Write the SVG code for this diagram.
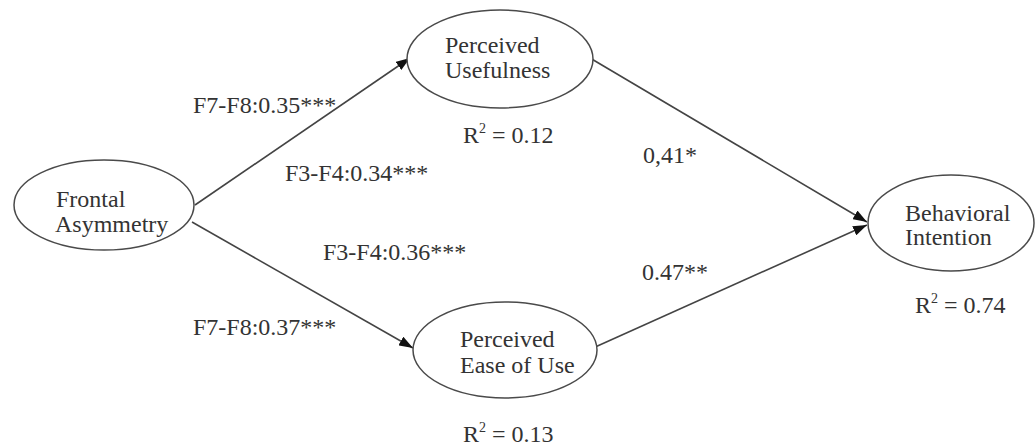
<svg xmlns="http://www.w3.org/2000/svg" width="1036" height="445" viewBox="0 0 1036 445">
<defs>
<style>
.node ellipse{fill:#ffffff;stroke:#4a4a4a;stroke-width:1.5}
text{font-family:"Liberation Serif","Times New Roman",serif;font-size:24px;fill:#333}
.edge{stroke:#444;stroke-width:1.6;fill:none;marker-end:url(#arr)}
</style>
<marker id="arr" viewBox="0 0 14 10" refX="14" refY="5" markerWidth="14" markerHeight="10" markerUnits="userSpaceOnUse" orient="auto">
<path d="M0,0 L14,5 L0,10 Z" fill="#111"/>
</marker>
</defs>
<rect width="1036" height="445" fill="#ffffff"/>
<g id="connectors">
<line class="edge" x1="195" y1="205" x2="410" y2="58"/>
<line class="edge" x1="192" y1="222" x2="413" y2="348"/>
<line class="edge" x1="590" y1="58" x2="867" y2="222"/>
<line class="edge" x1="593" y1="348" x2="867" y2="225"/>
</g>
<g id="frontal" class="node">
<ellipse cx="104" cy="205" rx="90" ry="45"/>
<text x="56" y="207">Frontal</text>
<text x="55" y="232">Asymmetry</text>
</g>
<g id="pu" class="node">
<ellipse cx="500" cy="59" rx="93" ry="49"/>
<text x="445" y="53">Perceived</text>
<text x="445" y="78">Usefulness</text>
</g>
<g id="peu" class="node">
<ellipse cx="505" cy="350" rx="92" ry="48"/>
<text x="460" y="347">Perceived</text>
<text x="460" y="373">Ease of Use</text>
</g>
<g id="bi" class="node">
<ellipse cx="951" cy="223" rx="83" ry="48"/>
<text x="905" y="221">Behavioral</text>
<text x="905" y="245">Intention</text>
</g>
<g id="labels">
<text x="193" y="113">F7-F8:0.35***</text>
<text x="285" y="181">F3-F4:0.34***</text>
<text x="323" y="260">F3-F4:0.36***</text>
<text x="193" y="335">F7-F8:0.37***</text>
<text x="643" y="163">0,41*</text>
<text x="642" y="280">0.47**</text>
<text x="463" y="143">R<tspan font-size="14" dy="-10">2</tspan><tspan dy="10"> = 0.12</tspan></text>
<text x="915" y="313">R<tspan font-size="14" dy="-10">2</tspan><tspan dy="10"> = 0.74</tspan></text>
<text x="463" y="442">R<tspan font-size="14" dy="-10">2</tspan><tspan dy="10"> = 0.13</tspan></text>
</g>
</svg>
